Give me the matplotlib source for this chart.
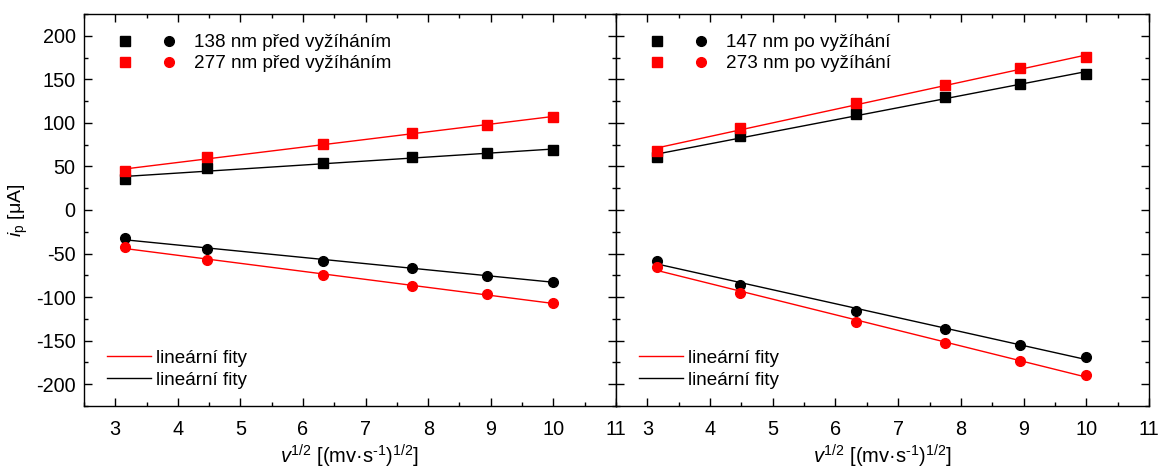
import numpy as np
import matplotlib
matplotlib.use('Agg')
import matplotlib.pyplot as plt
from matplotlib.legend_handler import HandlerTuple
from matplotlib.ticker import MultipleLocator

plt.rcParams['font.family'] = ['Liberation Sans', 'DejaVu Sans']
plt.rcParams['mathtext.fontset'] = 'custom'
plt.rcParams['mathtext.rm'] = 'Liberation Sans'
plt.rcParams['mathtext.it'] = 'Liberation Sans:italic'
plt.rcParams['axes.unicode_minus'] = False

# sqrt of scan rate
x = np.sqrt([10, 20, 40, 60, 80, 100])

# left panel - before annealing
anod_138 = [35.2, 47.8, 54.0, 60.5, 65.0, 68.5]
kat_138 = [-32.5, -45.0, -58.0, -67.0, -75.3, -82.2]
anod_277 = [45.2, 60.5, 75.7, 88.4, 97.5, 106.7]
kat_277 = [-42.8, -57.4, -74.5, -87.2, -97.0, -106.7]

# right panel - after annealing
anod_147 = [60.5, 84.9, 110.6, 129.3, 144.6, 156.0]
kat_147 = [-58.0, -86.0, -115.4, -136.5, -155.2, -169.0]
anod_273 = [67.7, 94.5, 122.8, 143.4, 162.5, 175.2]
kat_273 = [-65.7, -95.6, -128.5, -152.6, -173.2, -189.3]

panels = [
    ('138 nm před vyžíháním', anod_138, kat_138, '277 nm před vyžíháním', anod_277, kat_277),
    ('147 nm po vyžíhání', anod_147, kat_147, '273 nm po vyžíhání', anod_273, kat_273),
]

fig = plt.figure(figsize=(11.6, 4.68), dpi=100)
ax1 = fig.add_axes([0.0724, 0.1325, 0.4586, 0.8376])
ax2 = fig.add_axes([0.5310, 0.1325, 0.4595, 0.8376], sharey=ax1)

for ax, (lab1, a1, k1, lab2, a2, k2) in zip([ax1, ax2], panels):
    handles = []
    for lab, a, k, c in [(lab1, a1, k1, 'black'), (lab2, a2, k2, 'red')]:
        # linear fits
        for y in (a, k):
            p = np.polyfit(x, y, 1)
            ax.plot(x, np.polyval(p, x), color=c, lw=1.0, zorder=2)
        sq, = ax.plot(x, a, 's', color=c, ms=6.5, zorder=3)
        ci, = ax.plot(x, k, 'o', color=c, ms=7, zorder=3)
        handles.append(((sq, ci), lab))

    leg1 = ax.legend([h for h, l in handles], [l for h, l in handles],
                     handler_map={tuple: HandlerTuple(ndivide=None)},
                     loc='upper left', frameon=False, fontsize=13.6,
                     handlelength=4.2, handletextpad=0.4, labelspacing=0.2,
                     borderaxespad=0.55, bbox_to_anchor=(0.01, 0.995))
    ax.add_artist(leg1)
    lr, = ax.plot([], [], color='red', lw=1.0)
    lb, = ax.plot([], [], color='black', lw=1.0)
    ax.legend([lr, lb], ['lineární fity', 'lineární fity'], loc='lower left',
              frameon=False, fontsize=13.6, handlelength=2.3, handletextpad=0.3,
              labelspacing=0.25, borderaxespad=0.5, bbox_to_anchor=(0.012, 0.0))

    ax.set_xlim(2.5, 11)
    ax.set_ylim(-225, 225)
    ax.xaxis.set_major_locator(MultipleLocator(1))
    ax.xaxis.set_minor_locator(MultipleLocator(0.5))
    ax.yaxis.set_major_locator(MultipleLocator(50))
    ax.yaxis.set_minor_locator(MultipleLocator(25))
    ax.tick_params(which='both', direction='in', top=True, right=True,
                   labelsize=14.3, width=1.0)
    ax.tick_params(which='major', length=6)
    ax.tick_params(which='minor', length=3)
    ax.tick_params(axis='x', pad=10)
    ax.tick_params(axis='y', pad=6)
    for s in ax.spines.values():
        s.set_linewidth(1.0)
    ax.set_xlabel('$v^{1/2}$ [(mv·s$^{\\text{-}1}$)$^{1/2}$]', fontsize=14.5, labelpad=3)

ax1.set_ylabel('$i_\\mathrm{p}$ [μA]', fontsize=14, labelpad=4)
ax2.tick_params(labelleft=False)

fig.savefig('out.png', dpi=100)
